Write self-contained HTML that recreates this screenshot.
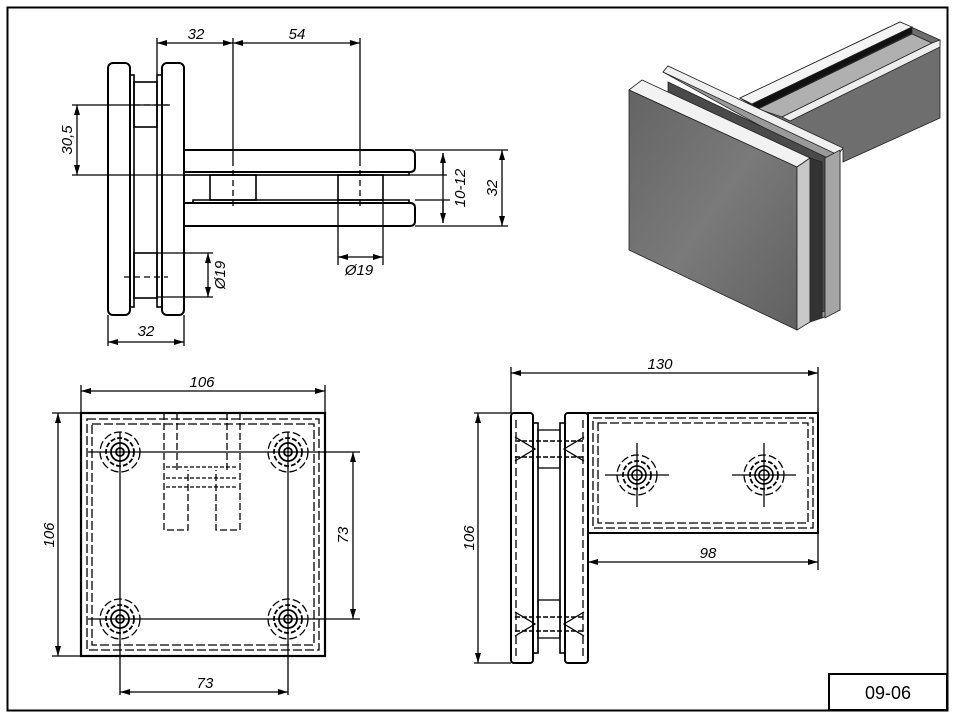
<!DOCTYPE html>
<html><head><meta charset="utf-8"><style>
html,body{margin:0;padding:0;background:#fff;}
svg{display:block;}
text{font-family:"Liberation Sans",sans-serif;font-style:italic;font-size:15px;fill:#000;}
</style></head><body>
<svg width="957" height="719" viewBox="0 0 957 719" xmlns="http://www.w3.org/2000/svg">
<defs>
<marker id="a" viewBox="0 0 10 6" refX="10" refY="3" markerWidth="10" markerHeight="6" orient="auto-start-reverse" markerUnits="userSpaceOnUse"><path d="M0,0 L10,3 L0,6 z" fill="#000"/></marker>
<linearGradient id="g1" x1="0" y1="0" x2="1" y2="1"><stop offset="0" stop-color="#646464"/><stop offset="0.5" stop-color="#7a7a7a"/><stop offset="1" stop-color="#606060"/></linearGradient>
</defs>
<rect x="7.5" y="7.5" width="940" height="703" fill="none" stroke="#000" stroke-width="2"/>
<rect x="829" y="674" width="118" height="36" fill="#fff" stroke="#000" stroke-width="2"/>
<text x="888" y="699" text-anchor="middle" style="font-style:normal;font-size:18px">09-06</text>

<g stroke="#000" fill="none" stroke-width="1.3">
<rect x="108" y="63" width="22" height="252" rx="5" stroke-width="2"/>
<rect x="130" y="75" width="4" height="232" stroke-width="1.6"/>
<rect x="157" y="75" width="5" height="232" stroke-width="1.6"/>
<rect x="162" y="63" width="22" height="252" rx="5" stroke-width="2"/>
<rect x="134" y="82" width="23" height="45" stroke-width="1.6"/>
<rect x="134" y="253" width="23" height="45" stroke-width="1.6"/>
<path d="M184,150 H410 Q415,150 415,155 V167 Q415,172 410,172 H184" stroke-width="2"/>
<path d="M184,172 H409 V175 H184" stroke-width="1.6"/>
<path d="M193,200 H409 V203 H193 Z" stroke-width="1.6"/>
<path d="M184,203 H410 Q415,203 415,208 V221 Q415,226 410,226 H184" stroke-width="2"/>
<rect x="210" y="175" width="46" height="25" stroke-width="1.6"/>
<rect x="338" y="175" width="45" height="25" stroke-width="1.6"/>
<line x1="184" y1="150" x2="184" y2="226" stroke-width="2"/>
<line x1="415" y1="150" x2="508" y2="150"/>
<line x1="415" y1="226" x2="508" y2="226"/>
<line x1="72" y1="175" x2="447" y2="175"/>
<line x1="72" y1="105" x2="170" y2="105"/>
<path d="M134,105 H168 M124,277 H168" stroke-dasharray="6,4"/>
<path d="M233,160 V210 M360,160 V210" stroke-dasharray="6,4"/>
<line x1="157" y1="38" x2="157" y2="75"/>
<line x1="233" y1="38" x2="233" y2="160"/>
<line x1="360" y1="38" x2="360" y2="160"/>
<line x1="157" y1="43" x2="233" y2="43" marker-start="url(#a)" marker-end="url(#a)"/>
<line x1="233" y1="43" x2="360" y2="43" marker-start="url(#a)" marker-end="url(#a)"/>
<line x1="77" y1="105" x2="77" y2="175" marker-start="url(#a)" marker-end="url(#a)"/>
<line x1="443" y1="153" x2="443" y2="223"/>
<line x1="443" y1="153" x2="443" y2="175" marker-start="url(#a)"/>
<line x1="443" y1="200" x2="443" y2="223" marker-end="url(#a)"/>
<line x1="415" y1="200" x2="450" y2="200"/>
<line x1="502" y1="150" x2="502" y2="226" marker-start="url(#a)" marker-end="url(#a)"/>
<line x1="338" y1="200" x2="338" y2="265"/>
<line x1="383" y1="200" x2="383" y2="265"/>
<line x1="338" y1="257" x2="383" y2="257" marker-start="url(#a)" marker-end="url(#a)"/>
<line x1="157" y1="253" x2="213" y2="253"/>
<line x1="157" y1="297" x2="213" y2="297"/>
<line x1="208" y1="253" x2="208" y2="297" marker-start="url(#a)" marker-end="url(#a)"/>
<line x1="108" y1="315" x2="108" y2="346"/>
<line x1="184" y1="315" x2="184" y2="346"/>
<line x1="108" y1="342" x2="184" y2="342" marker-start="url(#a)" marker-end="url(#a)"/>

<rect x="81" y="413" width="244" height="243" stroke-width="2.2"/>
<rect x="87" y="419" width="232" height="231" stroke-dasharray="9,3"/>
<rect x="92" y="424" width="222" height="221" stroke-dasharray="9,3"/>
<path d="M164,413 V530 H188 V470 M177,413 V470 M240,413 V530 H216 V470 M227,413 V470" stroke-dasharray="7,3"/>
<path d="M166,467 H238 M166,478 H238 M166,487 H238" stroke-dasharray="4,2"/>
<g id="bolt">
<circle cx="120" cy="452" r="20" stroke-dasharray="8,3"/>
<circle cx="120" cy="452" r="14" stroke-dasharray="5,2" stroke-width="1.8"/>
<circle cx="120" cy="452" r="9" stroke-width="1.8"/>
<circle cx="120" cy="452" r="4" stroke-width="1.8"/>
</g>
<use href="#bolt" x="168"/>
<use href="#bolt" y="167"/>
<use href="#bolt" x="168" y="167"/>
<line x1="120" y1="432" x2="120" y2="695"/>
<line x1="288" y1="432" x2="288" y2="695"/>
<line x1="88" y1="452" x2="360" y2="452"/>
<line x1="88" y1="619" x2="360" y2="619"/>
<line x1="81" y1="385" x2="81" y2="413"/>
<line x1="325" y1="385" x2="325" y2="413"/>
<line x1="81" y1="391" x2="325" y2="391" marker-start="url(#a)" marker-end="url(#a)"/>
<line x1="52" y1="413" x2="81" y2="413"/>
<line x1="52" y1="656" x2="81" y2="656"/>
<line x1="58" y1="413" x2="58" y2="656" marker-start="url(#a)" marker-end="url(#a)"/>
<line x1="353" y1="452" x2="353" y2="619" marker-start="url(#a)" marker-end="url(#a)"/>
<line x1="120" y1="692" x2="288" y2="692" marker-start="url(#a)" marker-end="url(#a)"/>

<rect x="511" y="413" width="22" height="250" rx="3" stroke-width="2"/>
<rect x="565" y="413" width="23" height="250" rx="3" stroke-width="2"/>
<rect x="533" y="423" width="5" height="230" stroke-width="1.6"/>
<rect x="560" y="423" width="5" height="230" stroke-width="1.6"/>
<rect x="538" y="430" width="22" height="38" stroke-width="1.3"/>
<rect x="538" y="600" width="22" height="38" stroke-width="1.3"/>
<path d="M515,441 H584 M515,457 H584 M515,617 H584 M515,631 H584" stroke-dasharray="5,2" stroke-width="1.6"/>
<path d="M515,437 L535,449 L515,461 M584,437 L564,449 L584,461 M515,612 L535,624 L515,636 M584,612 L564,624 L584,636"/>
<path d="M516,420 V656 M583,420 V656" stroke-dasharray="8,4"/>
<rect x="588" y="413" width="230" height="120" stroke-width="2"/>
<rect x="593" y="418" width="220" height="110" stroke-dasharray="9,3"/>
<rect x="598" y="423" width="210" height="100" stroke-dasharray="9,3"/>
<g id="b2">
<circle cx="637" cy="475" r="20" stroke-dasharray="8,3"/>
<circle cx="637" cy="475" r="14" stroke-dasharray="5,2" stroke-width="1.8"/>
<circle cx="637" cy="475" r="9" stroke-width="1.6"/>
<circle cx="637" cy="475" r="5" stroke-width="1.6"/>
<line x1="605" y1="475" x2="669" y2="475"/>
<line x1="637" y1="443" x2="637" y2="507"/>
</g>
<use href="#b2" x="127"/>
<line x1="511" y1="367" x2="511" y2="413"/>
<line x1="818" y1="367" x2="818" y2="570"/>
<line x1="511" y1="373" x2="818" y2="373" marker-start="url(#a)" marker-end="url(#a)"/>
<line x1="588" y1="533" x2="588" y2="568"/>
<line x1="588" y1="562" x2="818" y2="562" marker-start="url(#a)" marker-end="url(#a)"/>
<line x1="474" y1="413" x2="511" y2="413"/>
<line x1="474" y1="663" x2="511" y2="663"/>
<line x1="478" y1="413" x2="478" y2="663" marker-start="url(#a)" marker-end="url(#a)"/>
</g>

<text x="196" y="39" text-anchor="middle">32</text>
<text x="297" y="39" text-anchor="middle">54</text>
<text x="72" y="140" text-anchor="middle" transform="rotate(-90 72 140)">30,5</text>
<text x="465" y="188" text-anchor="middle" transform="rotate(-90 465 188)">10-12</text>
<text x="497" y="188" text-anchor="middle" transform="rotate(-90 497 188)">32</text>
<text x="359" y="275" text-anchor="middle">Ø19</text>
<text x="225" y="275" text-anchor="middle" transform="rotate(-90 225 275)">Ø19</text>
<text x="146" y="336" text-anchor="middle">32</text>
<text x="202" y="387" text-anchor="middle">106</text>
<text x="54" y="535" text-anchor="middle" transform="rotate(-90 54 535)">106</text>
<text x="348" y="535" text-anchor="middle" transform="rotate(-90 348 535)">73</text>
<text x="205" y="688" text-anchor="middle">73</text>
<text x="660" y="369" text-anchor="middle">130</text>
<text x="708" y="558" text-anchor="middle">98</text>
<text x="474" y="538" text-anchor="middle" transform="rotate(-90 474 538)">106</text>

<g stroke="#222" stroke-width="0.8">
<polygon points="740,98 900,22 940,40 940,118 843,162 843,150 760,110" fill="#6e6e6e"/>
<polygon points="740,98 900,22 912,27 752,104" fill="#f4f4f4"/>
<polygon points="752,104 912,27 912,33 757,109" fill="#111"/>
<polygon points="758,109 912,34 932,43 782,117" fill="#b0b0b0"/>
<polygon points="782,117 932,43 940,40 940,47 790,121" fill="#eeeeee"/>
<polygon points="663,72 668,66 840,148 840,310 822,318 822,160" fill="#9a9a9a"/>
<polygon points="663,72 668,66 843,148 838,155" fill="#f0f0f0"/>
<polygon points="668,82 832,160 832,310 820,312 668,240" fill="#4a4a4a"/>
<polygon points="825,158 840,150 840,310 825,318" fill="#a5a5a5"/>
<polygon points="629,90 642,80 810,158 797,167" fill="#f2f2f2"/>
<polygon points="629,90 797,167 797,330 629,250" fill="url(#g1)"/>
<polygon points="797,167 810,158 810,322 797,330" fill="#c8c8c8"/>
<polygon points="810,158 822,162 822,318 810,322" fill="#333"/>
</g>
</svg>
</body></html>
